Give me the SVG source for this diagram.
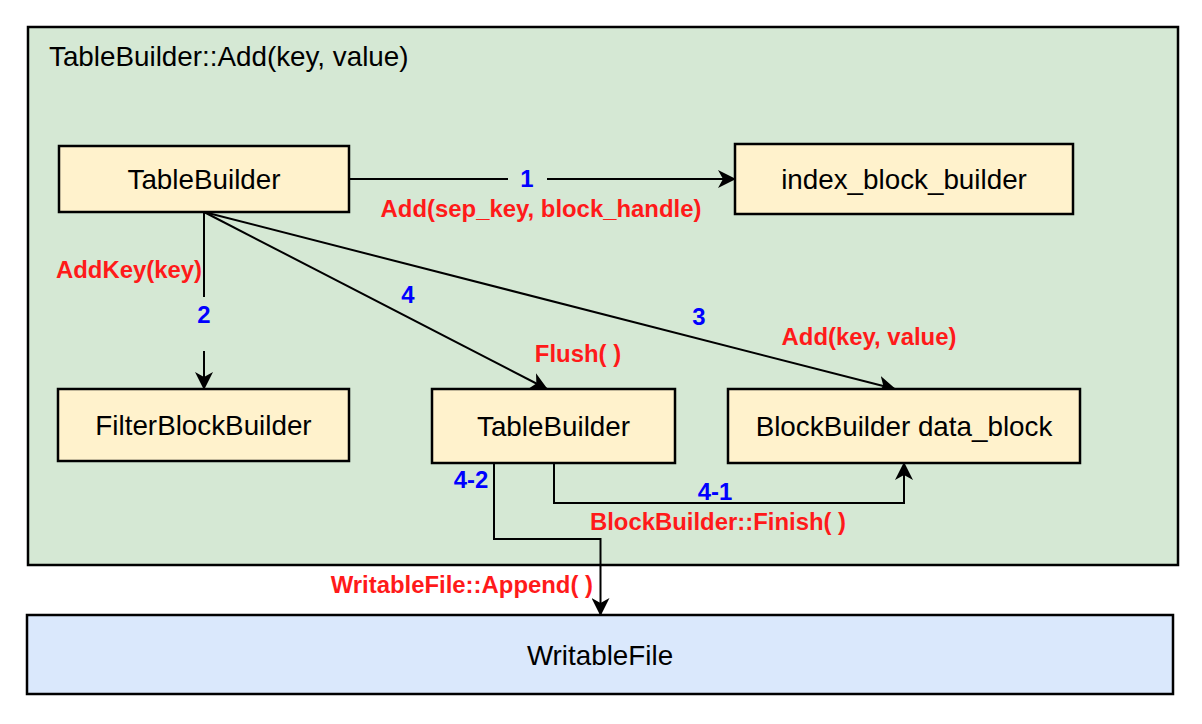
<svg xmlns="http://www.w3.org/2000/svg" width="1202" height="724" viewBox="0 0 1202 724">
<style>
.box{fill:#fff2cc;stroke:#000;stroke-width:2.5}
.t{font-family:"Liberation Sans",Arial,sans-serif;font-size:27.8px;fill:#000;text-anchor:middle}
.r{font-family:"Liberation Sans",Arial,sans-serif;font-size:23.9px;font-weight:bold;fill:#ff1a1a;text-anchor:middle}
.b{font-family:"Liberation Sans",Arial,sans-serif;font-size:23.9px;font-weight:bold;fill:#0000ff;text-anchor:middle}
.c{fill:none;stroke:#000;stroke-width:2}
</style>
<defs>
<marker id="arr" viewBox="0 0 18 18" markerWidth="18" markerHeight="18" refX="17" refY="9" orient="auto" markerUnits="userSpaceOnUse">
<path d="M0,0 L18,9 L0,18 L5,9 Z" fill="#000"/>
</marker>
</defs>
<rect width="1202" height="724" fill="#fff"/>
<g id="container">
<rect x="28" y="27" width="1150" height="538" fill="#d5e8d4" stroke="#000" stroke-width="2.5"/>
<text x="49" y="66" font-family="Liberation Sans, Arial, sans-serif" font-size="27.8" fill="#000">TableBuilder::Add(key, value)</text>
</g>
<g id="connectors">
<path class="c" d="M349,179 L735,179" marker-end="url(#arr)"/>
<path class="c" d="M204,212 L204,389" marker-end="url(#arr)"/>
<path class="c" d="M204,212 L547,389" marker-end="url(#arr)"/>
<path class="c" d="M204,212 L895,389" marker-end="url(#arr)"/>
<path class="c" d="M554,463 L554,503 L904,503 L904,463" marker-end="url(#arr)"/>
<path class="c" d="M494,463 L494,539 L600.5,539 L600.5,615" marker-end="url(#arr)"/>
<rect x="508" y="166" width="39" height="26" fill="#d5e8d4"/>
<rect x="190" y="297" width="28" height="54" fill="#d5e8d4"/>
<text class="b" x="527" y="187">1</text>
<text class="r" x="541" y="217">Add(sep_key, block_handle)</text>
<text class="r" x="202" y="278" style="text-anchor:end">AddKey(key)</text>
<text class="b" x="204" y="323">2</text>
<text class="b" x="408" y="303">4</text>
<text class="b" x="699" y="325">3</text>
<text class="r" x="869" y="345">Add(key, value)</text>
<text class="r" x="578" y="362">Flush( )</text>
<text class="b" x="471" y="488">4-2</text>
<text class="b" x="715" y="500">4-1</text>
<text class="r" x="718" y="530">BlockBuilder::Finish( )</text>
<text class="r" x="593" y="593" style="text-anchor:end">WritableFile::Append( )</text>
</g>
<g id="tablebuilder">
<rect class="box" x="59" y="146" width="290" height="66"/>
<text class="t" x="204" y="189">TableBuilder</text>
</g>
<g id="index_block_builder">
<rect class="box" x="735" y="144" width="338" height="70"/>
<text class="t" x="904" y="189">index_block_builder</text>
</g>
<g id="filter_block_builder">
<rect class="box" x="58" y="389" width="291" height="72"/>
<text class="t" x="203.5" y="435">FilterBlockBuilder</text>
</g>
<g id="tablebuilder2">
<rect class="box" x="432" y="389" width="243" height="74"/>
<text class="t" x="553.5" y="436">TableBuilder</text>
</g>
<g id="data_block">
<rect class="box" x="728" y="389" width="352" height="74"/>
<text class="t" x="904" y="436">BlockBuilder data_block</text>
</g>
<g id="writable_file">
<rect x="27" y="615" width="1146" height="79" fill="#dae8fc" stroke="#000" stroke-width="2.5"/>
<text class="t" x="600" y="665">WritableFile</text>
</g>
</svg>
